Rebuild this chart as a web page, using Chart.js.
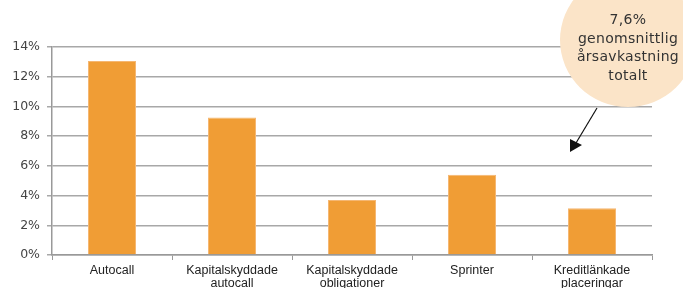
<!DOCTYPE html>
<html>
<head>
<meta charset="utf-8">
<script src="https://cdn.jsdelivr.net/npm/chart.js@4/dist/chart.umd.min.js"></script>
<style>
  html, body { margin: 0; padding: 0; background: #fff; overflow: hidden; }
  #wrap { position: relative; width: 683px; height: 288px; }
  #bubble {
    position: absolute; left: 560px; top: -27px; width: 136px; height: 134px;
    border-radius: 50%; background: #fbe4c8;
    font-family: "DejaVu Sans", sans-serif; font-size: 14px; color: #333;
    text-align: center; line-height: 18.7px; letter-spacing: 0.3px;
  }
  #bubble div { position: absolute; left: 0; right: 0; top: 37px; }
  #arrow { position: absolute; left: 0; top: 0; pointer-events: none; }
</style>
</head>
<body>
<div id="wrap">
  <canvas id="chart" width="683" height="288"></canvas>
  <div id="bubble"><div>7,6%<br>genomsnittlig<br>årsavkastning<br>totalt</div></div>
  <svg id="arrow" width="683" height="288">
    <line x1="597" y1="108" x2="576" y2="143" stroke="#111" stroke-width="1.2"/>
    <polygon points="570,152 570,139 582,145" fill="#111"/>
  </svg>
</div>
<script>
// Genomsnittlig årsavkastning per produkttyp
const categories = [
  'Autocall',
  ['Kapitalskyddade', 'autocall'],
  ['Kapitalskyddade', 'obligationer'],
  'Sprinter',
  ['Kreditlänkade', 'placeringar']
];
const returns = [13.05, 9.25, 3.7, 5.4, 3.15];
const yTicks = [0, 2, 4, 6, 8, 10, 12, 14];

const ctx = document.getElementById('chart').getContext('2d');

new Chart(ctx, {
    type: 'bar',
    data: {
        labels: categories,
        datasets: [{
            data: returns,
            backgroundColor: '#f09d35',
            borderColor: '#f5b772',
            borderWidth: 1,
            barPercentage: 0.8,
            categoryPercentage: 0.5
        }]
    },
    options: {
        responsive: false,
        animation: false,
        layout: {
            padding: { top: 47, right: 31, left: 0, bottom: 0 }
        },
        plugins: {
            legend: { display: false },
            tooltip: { enabled: false }
        },
        scales: {
            x: {
                afterFit: function(scale) { scale.height = 33; },
                grid: {
                    offset: true,
                    drawOnChartArea: false,
                    drawTicks: true,
                    tickLength: 5,
                    color: '#999',
                    lineWidth: 1
                },
                border: { color: '#999', width: 1.5 },
                ticks: {
                    color: '#222',
                    padding: 4,
                    maxRotation: 0,
                    autoSkip: false,
                    font: { family: '"Liberation Sans", Arial, sans-serif', size: 12.5, lineHeight: 1.05 }
                }
            },
            y: {
                min: 0,
                max: 14,
                afterFit: function(scale) { scale.width = 52; },
                afterBuildTicks: function(scale) {
                    scale.ticks = yTicks.map(v => ({ value: v }));
                },
                grid: {
                    color: '#a8a8a8',
                    lineWidth: 1.5,
                    tickLength: 5
                },
                border: { color: '#999', width: 1.5 },
                ticks: {
                    color: '#444',
                    padding: 7,
                    font: { family: '"DejaVu Sans", sans-serif', size: 12.5 },
                    callback: function(value) { return value + '%'; }
                }
            }
        }
    }
});
</script>
</body>
</html>
